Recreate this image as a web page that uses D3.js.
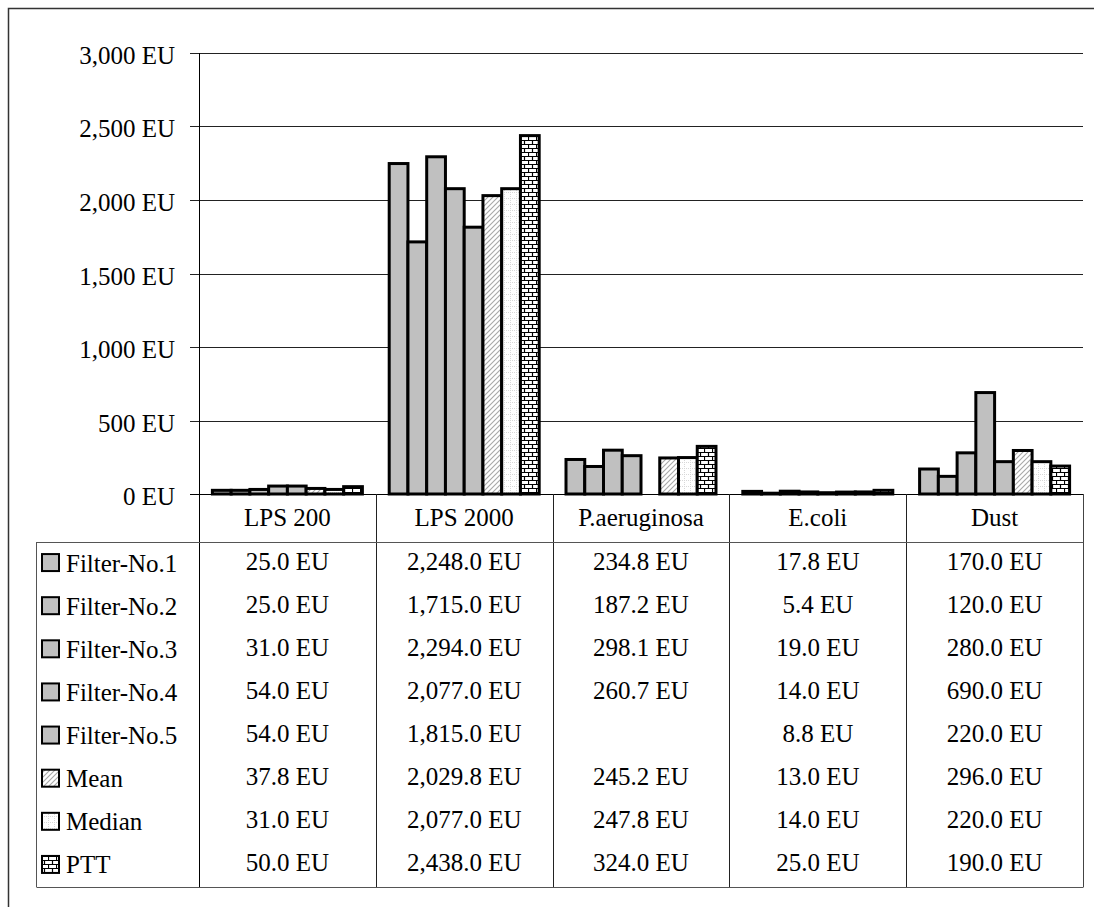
<!DOCTYPE html>
<html><head><meta charset="utf-8">
<title>Endotoxin chart</title>
<script src="https://cdn.jsdelivr.net/npm/d3@7"></script>
<style>
html,body{margin:0;padding:0;background:#fff}
#c text{font-family:"Liberation Serif" !important}
</style></head>
<body>
<div id="chart"></div>
<script>
const categories=["LPS 200","LPS 2000","P.aeruginosa","E.coli","Dust"];
const seriesNames=["Filter-No.1","Filter-No.2","Filter-No.3","Filter-No.4","Filter-No.5","Mean","Median","PTT"];
const filter1=[25.0,2248.0,234.8,17.8,170.0];
const filter2=[25.0,1715.0,187.2,5.4,120.0];
const filter3=[31.0,2294.0,298.1,19.0,280.0];
const filter4=[54.0,2077.0,260.7,14.0,690.0];
const filter5=[54.0,1815.0,null,8.8,220.0];
const meanVals=[37.8,2029.8,245.2,13.0,296.0];
const medianVals=[31.0,2077.0,247.8,14.0,220.0];
const pttVals=[50.0,2438.0,324.0,25.0,190.0];
const yTicks=[0,500,1000,1500,2000,2500,3000];

const seriesValues=[filter1,filter2,filter3,filter4,filter5,meanVals,medianVals,pttVals];
const fills=["#c0c0c0","#c0c0c0","#c0c0c0","#c0c0c0","#c0c0c0","url(#hatch)","url(#dots)","url(#brick)"];

const svg=d3.select("#chart").append("svg").attr("id","c").attr("width",1094).attr("height",907)
  .style("display","block");
const FONT="Liberation Serif";
const L=199,R=1083,T=53,B=494;
const tableTop=542,tableBottom=887,legendLeft=36;
const FS=25;

const defs=svg.append("defs");
const ph=defs.append("pattern").attr("id","hatch").attr("patternUnits","userSpaceOnUse").attr("width",5).attr("height",5);
ph.append("rect").attr("width",5).attr("height",5).attr("fill","#fff");
ph.append("path").attr("d","M0,5L5,0M-1,1L1,-1M4,6L6,4").attr("stroke","#a8a8a8").attr("stroke-width",1.1);
const pd=defs.append("pattern").attr("id","dots").attr("patternUnits","userSpaceOnUse").attr("width",6).attr("height",6);
pd.append("rect").attr("width",6).attr("height",6).attr("fill","#fff");
pd.append("path").attr("d","M0,0.5H6M0.5,0V6").attr("stroke","#d8d8d8").attr("stroke-width",1).attr("stroke-dasharray","1,1");
const pb=defs.append("pattern").attr("id","brick").attr("patternUnits","userSpaceOnUse").attr("width",8).attr("height",8);
pb.append("rect").attr("width",8).attr("height",8).attr("fill","#fff");
pb.append("path").attr("d","M0,0.5H8M0,4.5H8M0.5,0V4.5M4.5,4.5V8").attr("stroke","#000").attr("stroke-width",1.2);

svg.append("path").attr("d","M8.5,907V8.5H1094")
  .attr("fill","none").attr("stroke","#333").attr("stroke-width",1.5);

const y=d3.scaleLinear().domain([0,3000]).range([B,T]);
const x=d3.scaleBand().domain(categories).range([L,R]).paddingInner(0).paddingOuter(0);
const bw=x.bandwidth()/(seriesNames.length+1.43);
const xs=d3.scaleBand().domain(seriesNames).range([(x.bandwidth()-bw*8)/2,(x.bandwidth()+bw*8)/2]).padding(0);

svg.append("g").selectAll("line").data(yTicks.filter(d=>d>0)).join("line")
  .attr("x1",L-9).attr("x2",R).attr("y1",d=>Math.round(y(d))+0.5).attr("y2",d=>Math.round(y(d))+0.5)
  .attr("stroke","#222").attr("stroke-width",1);
svg.append("g").selectAll("text").data(yTicks).join("text")
  .attr("x",175).attr("y",d=>Math.round(y(d))+11).attr("text-anchor","end").attr("font-size",FS)
  .attr("font-family",FONT)
  .text(d=>d3.format(",")(d)+" EU");

const barData=[];
seriesValues.forEach((vals,si)=>vals.forEach((v,ci)=>{if(v!==null)barData.push({s:si,c:ci,v});}));
svg.append("g").selectAll("rect").data(barData).join("rect")
  .attr("x",d=>x(categories[d.c])+xs(seriesNames[d.s]))
  .attr("width",xs.bandwidth())
  .attr("y",d=>y(d.v))
  .attr("height",d=>B-y(d.v))
  .attr("fill",d=>fills[d.s]).attr("stroke","#000").attr("stroke-width",3);

svg.append("line").attr("x1",L-9).attr("x2",R).attr("y1",B+0.5).attr("y2",B+0.5).attr("stroke","#000");
svg.append("line").attr("x1",L+0.5).attr("x2",L+0.5).attr("y1",T).attr("y2",tableBottom).attr("stroke","#000");

svg.append("g").selectAll("line").data(categories.slice(1)).join("line")
  .attr("x1",d=>Math.round(x(d))+0.5).attr("x2",d=>Math.round(x(d))+0.5)
  .attr("y1",B).attr("y2",tableBottom).attr("stroke","#222");
svg.append("line").attr("x1",R+0.5).attr("x2",R+0.5).attr("y1",B).attr("y2",tableBottom).attr("stroke","#444");
svg.append("line").attr("x1",legendLeft+0.5).attr("x2",R+0.5).attr("y1",tableTop+0.5).attr("y2",tableTop+0.5).attr("stroke","#555");
svg.append("line").attr("x1",legendLeft+0.5).attr("x2",R+0.5).attr("y1",tableBottom+0.5).attr("y2",tableBottom+0.5).attr("stroke","#555");
svg.append("line").attr("x1",legendLeft+0.5).attr("x2",legendLeft+0.5).attr("y1",tableTop).attr("y2",tableBottom).attr("stroke","#555");

svg.append("g").selectAll("text").data(categories).join("text")
  .attr("x",d=>x(d)+x.bandwidth()/2).attr("y",526).attr("text-anchor","middle").attr("font-size",FS)
  .attr("font-family",FONT).text(d=>d);

const rowH=(tableBottom-tableTop)/seriesNames.length;
const fmt=d3.format(",.1f");
seriesNames.forEach((name,si)=>{
  const cy=tableTop+rowH*si+rowH/2;
  svg.append("rect").attr("x",42).attr("y",cy-9.5).attr("width",17).attr("height",17)
    .attr("fill",fills[si]).attr("stroke","#000").attr("stroke-width",2);
  svg.append("text").attr("x",66).attr("y",cy+8).attr("font-size",FS).attr("font-family",FONT).text(name);
  svg.append("g").selectAll("text").data(seriesValues[si].map((v,ci)=>({v,ci})).filter(d=>d.v!==null)).join("text")
    .attr("x",d=>x(categories[d.ci])+x.bandwidth()/2).attr("y",cy+6).attr("text-anchor","middle").attr("font-size",FS)
    .attr("font-family",FONT)
    .text(d=>fmt(d.v)+" EU");
});
</script></body></html>
